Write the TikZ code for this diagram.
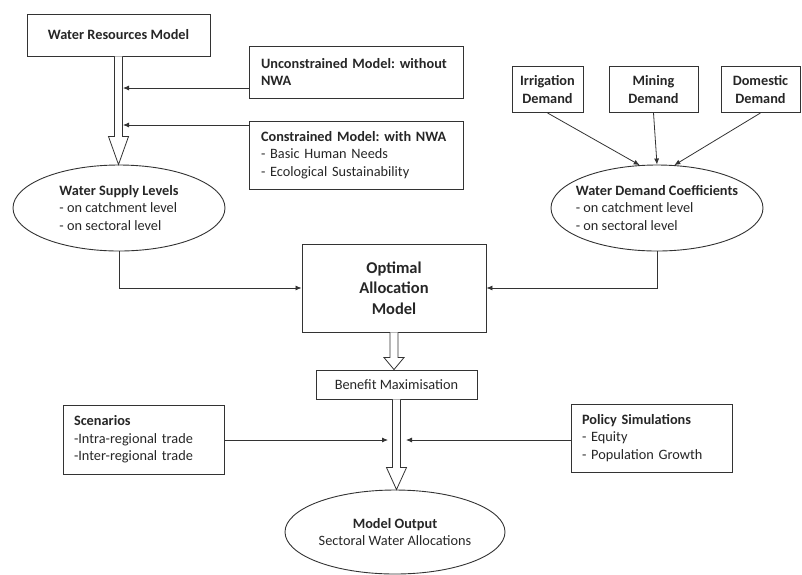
\documentclass[tikz,border=0pt]{standalone}
\usepackage{fontspec}
\setmainfont{Carlito}
\frenchspacing
\usepackage{tikz}
\usetikzlibrary{arrows.meta, calc, shapes.geometric}

\newcommand{\hollowarrow}[3]{%
  \draw[hollow] let \p1=(#1), \p2=(#2) in
    (\x1-4pt,\y1) -- (\x1-4pt,\y2+#3) -- (\x1-10pt,\y2+#3) -- (\x1,\y2)
    -- (\x1+10pt,\y2+#3) -- (\x1+4pt,\y2+#3) -- (\x1+4pt,\y1);}

\begin{document}
\begin{tikzpicture}[x=1pt, y=-1pt,
    box/.style={draw=black!80, line width=0.9pt, inner sep=0pt, text=black!85,
      font=\fontsize{14.3}{17.5}\selectfont},
    oval/.style={ellipse, draw=black!80, line width=0.9pt, inner sep=-12pt, text=black!85,
      minimum width=212pt, minimum height=86pt, align=left,
      font=\fontsize{14.3}{17.5}\selectfont},
    link/.style={-{Latex[length=6pt,width=5pt]}, line width=0.8pt, black!80},
    hollow/.style={draw=black!80, line width=0.8pt, fill=white}]
        \useasboundingbox (0,0) rectangle (802,574);

        \node[box, minimum width=183pt, minimum height=42pt] (wrm) at (118.5,35) {\textbf{Water Resources Model}};
        \node[box, text width=190pt, inner xsep=12pt, minimum height=52pt, align=left] (unc) at (356,72)
            {\textbf{Unconstrained Model: without}\\\textbf{NWA}};
        \node[box, text width=190pt, inner xsep=12pt, minimum height=68pt, align=left] (con) at (356,155)
            {\textbf{Constrained Model: with NWA}\\- Basic Human Needs\\- Ecological Sustainability};
        \node[oval] (supply) at (119,208) {\textbf{Water Supply Levels}\\- on catchment level\\- on sectoral level};

        \foreach \n/\x/\w/\t in {irr/547.5/71/Irrigation, min/653.5/89/Mining, dom/760.5/79/Domestic} {
            \node[box, minimum width=\w pt, minimum height=46pt, align=center] (\n) at (\x,89.5) {\textbf{\t}\\\textbf{Demand}};
        }
        \node[oval] (demand) at (657,208) {\textbf{Water Demand Coefficients}\\- on catchment level\\- on sectoral level};

        \node[box, minimum width=184pt, minimum height=88pt, align=center,
            font=\fontsize{16.5}{20.5}\selectfont\bfseries] (opt) at (394,288) {Optimal\\Allocation\\Model};
        \node[box, minimum width=161pt, minimum height=29pt] (ben) at (396.5,384.5) {Benefit Maximisation};

        \node[box, text width=139pt, inner xsep=11pt, minimum height=69pt, align=left] (scen) at (143.5,439.5)
            {\textbf{Scenarios}\\-Intra-regional trade\\-Inter-regional trade};
        \node[box, text width=139pt, inner xsep=11pt, minimum height=68pt, align=left] (pol) at (651.5,438)
            {\textbf{Policy Simulations}\\- Equity\\- Population Growth};
        \node[oval, minimum width=220pt, minimum height=84pt, align=center] (out) at (395,532)
            {\textbf{Model Output}\\Sectoral Water Allocations};

        \hollowarrow{wrm.south}{supply.north}{28pt}
        \hollowarrow{opt.south}{ben.north}{12pt}
        \hollowarrow{ben.south}{out.north}{22pt}

        \coordinate (j1) at (123,88);
        \coordinate (j2) at (123,125);
        \coordinate (j3) at (388,440);
        \coordinate (j4) at (406,440);
        \draw[link] (unc.west |- j1) -- (j1);
        \draw[link] (con.west |- j2) -- (j2);
        \draw[link] (scen.east |- j3) -- (j3);
        \draw[link] (pol.west |- j4) -- (j4);

        \foreach \n/\a in {irr/112, min/90, dom/68} {
            \draw[link] (\n.south) -- (demand.\a);
        }
        \draw[link] (supply.south) |- (opt.west);
        \draw[link] (demand.south) |- (opt.east);
    \end{tikzpicture}
\end{document}
